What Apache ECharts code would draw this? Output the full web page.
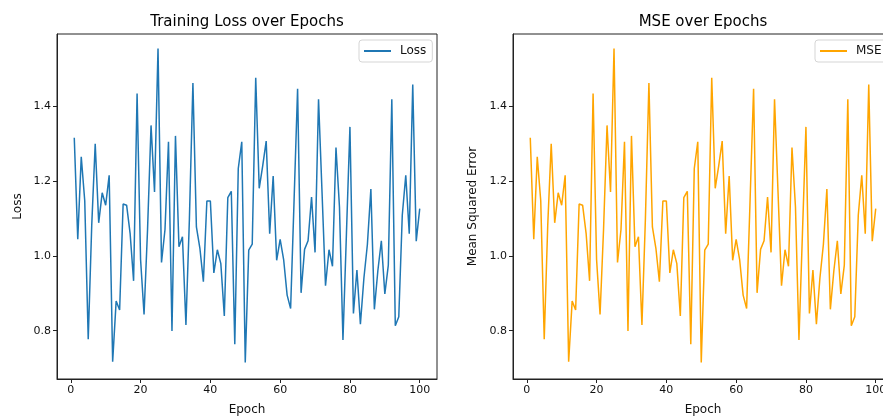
<!DOCTYPE html>
<html>
<head>
<meta charset="utf-8">
<script src="https://cdn.jsdelivr.net/npm/echarts@6/dist/echarts.min.js"></script>
<style>
html,body{margin:0;padding:0;background:#fff;}
#chart{width:883px;height:416px;}
</style>
</head>
<body>
<div id="chart"></div>
<script>
const epochs = Array.from({length: 100}, (_, i) => i + 1);
const lossValues = [
  1.315, 1.044, 1.264, 1.147, 0.777, 1.08, 1.299, 1.088, 1.168, 1.135,
  1.215, 0.717, 0.879, 0.855, 1.138, 1.135, 1.06, 0.933, 1.433, 0.99,
  0.843, 1.07, 1.348, 1.170, 1.553, 0.982, 1.07, 1.304, 0.799, 1.320,
  1.024, 1.051, 0.815, 1.10, 1.461, 1.077, 1.02, 0.931, 1.146, 1.146,
  0.954, 1.016, 0.979, 0.839, 1.155, 1.172, 0.764, 1.233, 1.304, 0.715,
  1.015, 1.031, 1.475, 1.180, 1.24, 1.306, 1.059, 1.213, 0.988, 1.044,
  0.99, 0.895, 0.859, 1.15, 1.446, 0.901, 1.017, 1.040, 1.157, 1.009,
  1.418, 1.17, 0.920, 1.016, 0.972, 1.289, 1.13, 0.775, 1.06, 1.344,
  0.846, 0.962, 0.817, 0.94, 1.03, 1.178, 0.857, 0.96, 1.040, 0.898,
  0.975, 1.418, 0.813, 0.837, 1.108, 1.215, 1.059, 1.457, 1.039, 1.126
];
const mseValues = lossValues.slice();
const xTicks = [0, 20, 40, 60, 80, 100];
const yTicks = [0.8, 1.0, 1.2, 1.4];

const FONT = 'DejaVu Sans';
const TXT = '#111';

function pairs(vals) { return epochs.map((e, i) => [e, vals[i]]); }

function xAxisCfg(gridIndex) {
  return {
    type: 'value', gridIndex, min: -3.95, max: 104.95,
    name: 'Epoch', nameLocation: 'middle', nameGap: 25,
    nameTextStyle: {fontFamily: FONT, fontSize: 12, color: TXT},
    axisLine: {show: true, onZero: false, lineStyle: {color: '#222', width: 1}},
    axisTick: {show: true, length: 4, customValues: xTicks, lineStyle: {color: '#222'}},
    axisLabel: {customValues: xTicks, margin: 6, fontFamily: FONT, fontSize: 11, color: TXT},
    splitLine: {show: false}
  };
}
function yAxisCfg(gridIndex, name, gap) {
  return {
    type: 'value', gridIndex, min: 0.671, max: 1.592,
    name, nameLocation: 'middle', nameGap: gap,
    nameTextStyle: {fontFamily: FONT, fontSize: 12, color: TXT},
    axisLine: {show: true, onZero: false, lineStyle: {color: '#222', width: 1}},
    axisTick: {show: true, length: 4, customValues: yTicks, lineStyle: {color: '#222'}},
    axisLabel: {customValues: yTicks, margin: 6, fontFamily: FONT, fontSize: 11, color: TXT,
                formatter: v => v.toFixed(1)},
    splitLine: {show: false}
  };
}
function legendCfg(name, left) {
  return {
    data: [name], left, top: 40, orient: 'vertical',
    icon: 'rect', itemWidth: 27, itemHeight: 2,
    padding: [5, 6, 5, 5], itemGap: 6,
    backgroundColor: '#fff', borderColor: '#d5d5d5', borderWidth: 1, borderRadius: 3,
    textStyle: {fontFamily: FONT, fontSize: 12, color: TXT, padding: [0, 0, 0, 4]}
  };
}

const chart = echarts.init(document.getElementById('chart'), null, {renderer: 'canvas'});
chart.setOption({
  animation: false,
  backgroundColor: '#fff',
  title: [
    {text: 'Training Loss over Epochs', left: 242, top: 10, textAlign: 'center',
     textStyle: {fontFamily: FONT, fontSize: 15, fontWeight: 'normal', color: '#000'}},
    {text: 'MSE over Epochs', left: 698, top: 10, textAlign: 'center',
     textStyle: {fontFamily: FONT, fontSize: 15, fontWeight: 'normal', color: '#000'}}
  ],
  legend: [legendCfg('Loss', 359), legendCfg('MSE', 815)],
  grid: [
    {left: 57, top: 34, width: 380, height: 345, outerBoundsMode: 'none', containLabel: false,
     show: true, borderColor: '#222', borderWidth: 1, backgroundColor: 'transparent'},
    {left: 513, top: 34, width: 380, height: 345, outerBoundsMode: 'none', containLabel: false,
     show: true, borderColor: '#222', borderWidth: 1, backgroundColor: 'transparent'}
  ],
  xAxis: [xAxisCfg(0), xAxisCfg(1)],
  yAxis: [yAxisCfg(0, 'Loss', 33), yAxisCfg(1, 'Mean Squared Error', 34)],
  series: [
    {name: 'Loss', type: 'line', xAxisIndex: 0, yAxisIndex: 0, data: pairs(lossValues),
     symbol: 'none', lineStyle: {color: '#1f77b4', width: 1.5}, itemStyle: {color: '#1f77b4'}},
    {name: 'MSE', type: 'line', xAxisIndex: 1, yAxisIndex: 1, data: pairs(mseValues),
     symbol: 'none', lineStyle: {color: '#ffa500', width: 1.5}, itemStyle: {color: '#ffa500'}}
  ]
});
</script>
</body>
</html>
